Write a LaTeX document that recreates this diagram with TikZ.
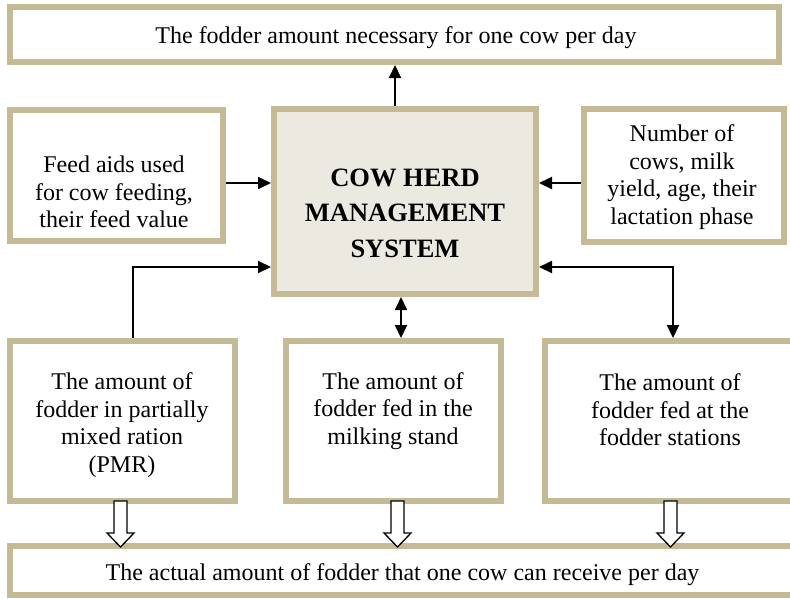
\documentclass[tikz,border=0pt]{standalone}
\usepackage{fontspec}
\setmainfont{Liberation Serif}
\usetikzlibrary{arrows.meta,calc}
\definecolor{bordertan}{HTML}{C4BB96}
\definecolor{boxfill}{HTML}{ECEAE0}
\begin{document}
\begin{tikzpicture}[x=1pt,y=-1pt,
  box/.style={draw=bordertan, line width=6pt, fill=white, rectangle, inner sep=0pt},
  txt/.style={align=center, font=\fontsize{24}{27.5}\selectfont, inner sep=0pt},
  bigtxt/.style={align=center, font=\fontsize{26.5}{35.5}\selectfont\bfseries, inner sep=0pt},
  conn/.style={line width=2pt, -{Triangle[length=13pt,width=12pt]}},
  dconn/.style={line width=2pt, {Triangle[length=13pt,width=12pt]}-{Triangle[length=13pt,width=12pt]}},
  hollowdown/.pic={\draw[line width=1.3pt, fill=white, line join=miter]
     (-6.5,0) -- (-6.5,32) -- (-13.5,32) -- (0,46) -- (13.5,32) -- (6.5,32) -- (6.5,0) -- cycle;}
]
\clip (0,0) rectangle (790,598);
\fill[white] (0,0) rectangle (790,598);

% boxes
\node[box, minimum width=769pt, minimum height=55pt] (top) at (394.5,34.5) {};
\node[box, minimum width=213pt, minimum height=131pt] (leftmid) at (116.5,175.5) {};
\node[box, fill=boxfill, minimum width=262pt, minimum height=185pt] (center) at (405,201.5) {};
\node[box, minimum width=200pt, minimum height=133pt] (rightmid) at (684,175.5) {};
\node[box, minimum width=225pt, minimum height=160pt] (botleft) at (122.5,421) {};
\node[box, minimum width=215pt, minimum height=160pt] (botmid) at (393.5,421) {};
\node[box, minimum width=255pt, minimum height=160pt] (botright) at (672.5,421) {};
\node[box, minimum width=790pt, minimum height=49pt] (bottom) at (405,570.5) {};

% texts
\node[txt] (toptext) at (396,38) {The fodder amount necessary for one cow per day};
\node[txt] (lefttext) at (114,192) {Feed aids used\\for cow feeding,\\their feed value};
\node[bigtxt] (centertext) at (405,213) {COW HERD\\MANAGEMENT\\SYSTEM};
\node[txt] (righttext) at (682,177) {Number of\\cows, milk\\yield, age, their\\lactation phase};
\node[txt] (blefttext) at (122,425) {The amount of\\fodder in partially\\mixed ration\\(PMR)};
\node[txt] (bmidtext) at (393,411) {The amount of\\fodder fed in the\\milking stand};
\node[txt] (brighttext) at (670,410) {The amount of\\fodder fed at the\\fodder stations};
\node[txt] (bottomtext) at (402.5,575) {The actual amount of fodder that one cow can receive per day};

% connectors
\coordinate (lowy) at (0,267);
\coordinate (rx) at (673,0);
\draw[conn] ([xshift=-10pt]center.north) -- ([xshift=-10pt]center.north |- top.south);
\draw[conn] ([yshift=-7.5pt]leftmid.east) -- ([yshift=-7.5pt]leftmid.east -| center.west);
\draw[conn] ([yshift=-7.5pt]rightmid.west) -- ([yshift=-7.5pt]rightmid.west -| center.east);
\draw[conn] ([xshift=10.5pt]botleft.north) |- (center.west |- lowy);
\draw[dconn] (center.east |- lowy) -| (rx |- botright.north);
\draw[dconn] ([xshift=-4pt]center.south) -- ([xshift=-4pt]center.south |- botmid.north);

% hollow arrows
\pic at ([xshift=-2pt,yshift=3pt]botleft.south) {hollowdown};
\pic at ([xshift=4pt,yshift=3pt]botmid.south) {hollowdown};
\pic at ([xshift=-2pt,yshift=3pt]botright.south) {hollowdown};
\end{tikzpicture}
\end{document}
